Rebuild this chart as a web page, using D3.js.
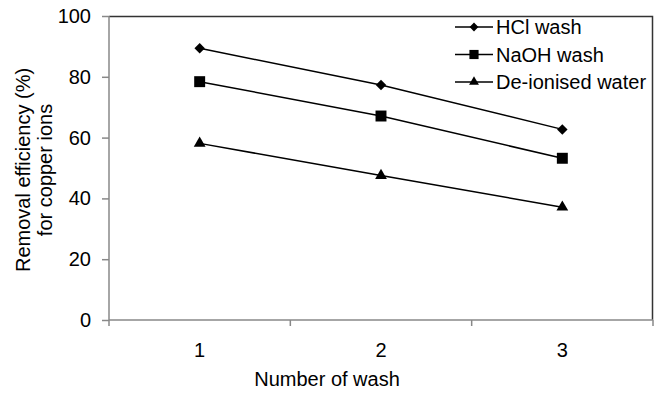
<!DOCTYPE html>
<html>
<head>
<meta charset="utf-8">
<script src="https://cdn.jsdelivr.net/npm/d3@7"></script>
<style>
    body { margin: 0; background: #fff; }
    text { font-family: "Liberation Sans", Arial, sans-serif; fill: #000; }
</style>
</head>
<body>
<svg id="chart" width="664" height="394"></svg>
<script>
// data
var washes = ["1", "2", "3"];
var hclWash = [89.4, 77.3, 62.7];
var naohWash = [78.4, 67.1, 53.2];
var deionisedWater = [58.1, 47.5, 37.1];
var seriesNames = ["HCl wash", "NaOH wash", "De-ionised water"];
var yTicks = [0, 20, 40, 60, 80, 100];

var series = [
    { name: seriesNames[0], values: hclWash, symbol: d3.symbolDiamond2, size: 70 },
    { name: seriesNames[1], values: naohWash, symbol: d3.symbolSquare, size: 120 },
    { name: seriesNames[2], values: deionisedWater, symbol: d3.symbolTriangle, size: 60 }
];

var margin = { "left": 109, "right": 11, "top": 16, "bottom": 74 };
var width = 664 - margin.left - margin.right;
var height = 394 - margin.top - margin.bottom;
var fontSize = "20px";

var svg = d3.select("#chart");
var g = svg.append("g")
    .attr("transform", "translate(" + margin.left + "," + margin.top + ")");

var x = d3.scaleBand()
    .domain(washes)
    .range([0, width]);

var y = d3.scaleLinear()
    .domain([0, 100])
    .range([height, 0]);

// frame: top and right dark
g.append("path")
    .attr("d", "M0,0.5H" + (width - 0.5) + "V" + height)
    .attr("fill", "none")
    .attr("stroke", "#333")
    .attr("stroke-width", 1.5);

// y axis
var yAxis = g.append("g")
    .call(d3.axisLeft(y).tickValues(yTicks).tickSize(7).tickPadding(11));
yAxis.select(".domain").attr("stroke", "#888").attr("stroke-width", 1.5)
    .attr("d", "M0,0V" + height);
yAxis.selectAll(".tick line").attr("stroke", "#888").attr("stroke-width", 1.5);
yAxis.selectAll(".tick text").style("font-size", fontSize)
    .style("font-family", "Liberation Sans, Arial, sans-serif").attr("fill", "#000");

// x axis with tick marks between categories
var xAxis = g.append("g")
    .attr("transform", "translate(0," + height + ")");
xAxis.append("path")
    .attr("d", "M0,0H" + width)
    .attr("stroke", "#888")
    .attr("stroke-width", 1.5);
var edges = washes.map(function(d) { return x(d); }).concat([width]);
xAxis.selectAll(".xtick").data(edges).join("line")
    .attr("class", "xtick")
    .attr("x1", d => d).attr("x2", d => d)
    .attr("y1", 0).attr("y2", 6)
    .attr("stroke", "#888")
    .attr("stroke-width", 1.5);
xAxis.selectAll(".xlab").data(washes).join("text")
    .attr("class", "xlab")
    .attr("x", d => x(d) + x.bandwidth() / 2)
    .attr("y", 37)
    .attr("text-anchor", "middle")
    .style("font-size", fontSize)
    .text(d => d);

// axis titles
svg.append("text")
    .attr("x", 327)
    .attr("y", 386)
    .attr("text-anchor", "middle")
    .style("font-size", fontSize)
    .text("Number of wash");

var yTitle = svg.append("text")
    .attr("transform", "translate(30,170) rotate(-90)")
    .attr("text-anchor", "middle")
    .style("font-size", fontSize);
yTitle.append("tspan").attr("x", 0).attr("dy", 0).text("Removal efficiency (%)");
yTitle.append("tspan").attr("x", 0).attr("dy", 22).text("for copper ions");

// lines and markers
var line = d3.line()
    .x((d, i) => x(washes[i]) + x.bandwidth() / 2)
    .y(d => y(d));

series.forEach(function(s) {
    g.append("path")
        .datum(s.values)
        .attr("d", line)
        .attr("fill", "none")
        .attr("stroke", "#000")
        .attr("stroke-width", 1.5);
    g.selectAll(null).data(s.values).join("path")
        .attr("transform", (d, i) => "translate(" + (x(washes[i]) + x.bandwidth() / 2) + "," + y(d) + ")")
        .attr("d", d3.symbol().type(s.symbol).size(s.size))
        .attr("fill", "#000");
});

// legend
var legend = svg.append("g").attr("transform", "translate(455,27)");
series.forEach(function(s, i) {
    var row = legend.append("g").attr("transform", "translate(0," + (i * 27.5) + ")");
    row.append("line")
        .attr("x1", 0).attr("x2", 38)
        .attr("stroke", "#000").attr("stroke-width", 1.5);
    row.append("path")
        .attr("transform", "translate(19,0)")
        .attr("d", d3.symbol().type(s.symbol).size(s.size * 0.7))
        .attr("fill", "#000");
    row.append("text")
        .attr("x", 41)
        .attr("y", 7)
        .style("font-size", fontSize)
        .text(s.name);
});
</script>
</body>
</html>
